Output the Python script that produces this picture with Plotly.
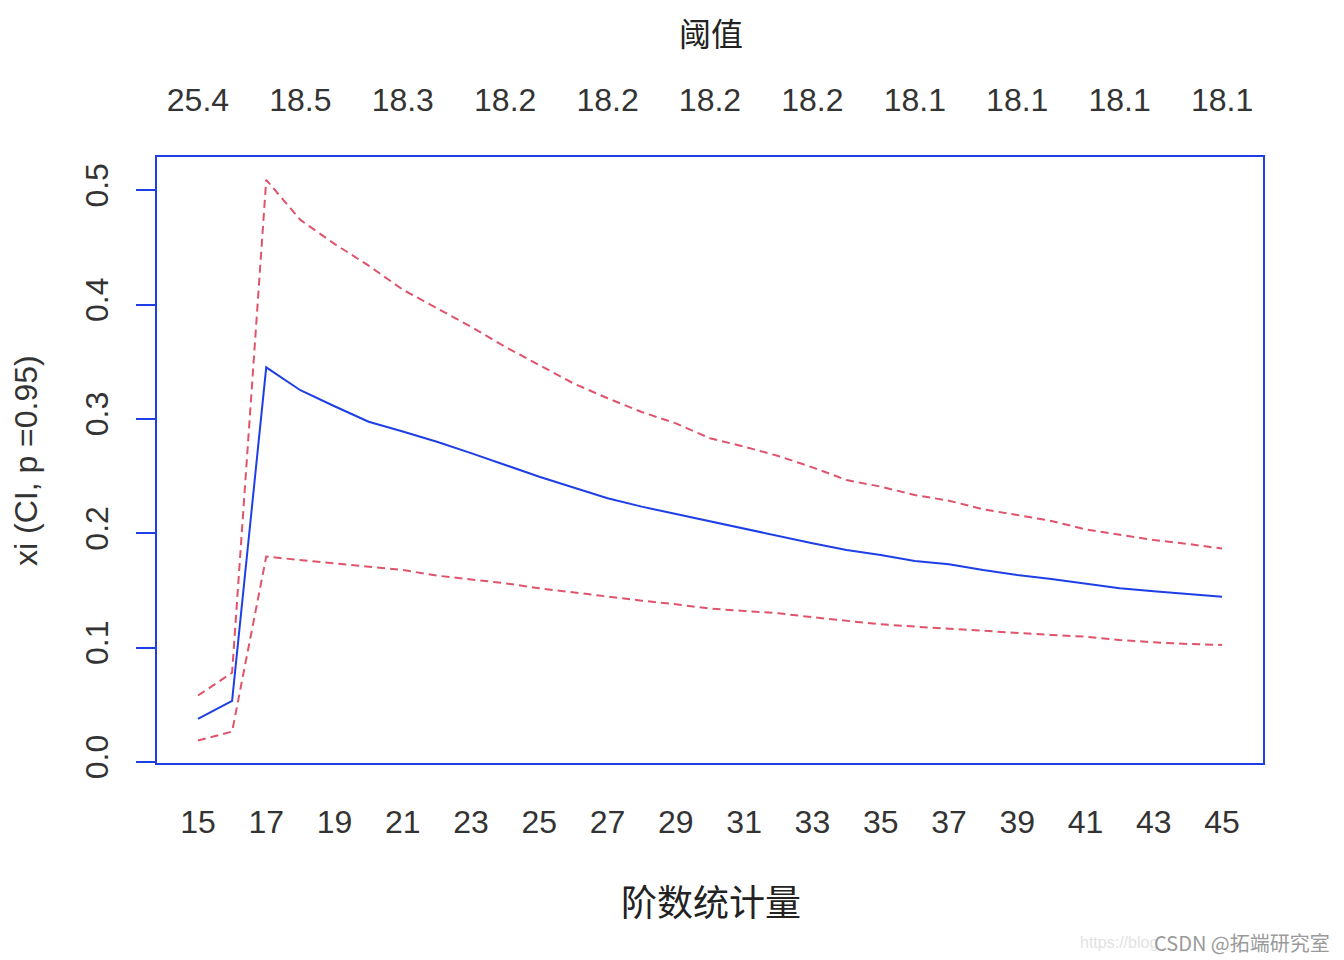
import plotly.graph_objects as go

# order statistics (number of exceedances) on the bottom axis
order_stats = list(range(15, 46))

# estimated shape xi and its 95% confidence bounds
xi_est = [
    0.0376, 0.0533, 0.345, 0.325, 0.311, 0.2975, 0.289, 0.280, 0.270,
    0.2596, 0.2494, 0.240, 0.2305, 0.2232, 0.2168, 0.210, 0.2034, 0.197,
    0.1912, 0.1853, 0.181, 0.1757, 0.1728, 0.1678, 0.1635, 0.160, 0.1556,
    0.1518, 0.1492, 0.1469, 0.1445,
]
xi_upper = [
    0.058, 0.078, 0.509, 0.474, 0.453, 0.434, 0.413, 0.397, 0.3805,
    0.363, 0.347, 0.331, 0.318, 0.306, 0.296, 0.283, 0.2757, 0.2675,
    0.2576, 0.2465, 0.2407, 0.2334, 0.2284, 0.2209, 0.2159, 0.2107, 0.2034,
    0.1984, 0.194, 0.1906, 0.1865,
]
xi_lower = [
    0.0186, 0.0265, 0.1795, 0.1763, 0.1736, 0.1707, 0.1678, 0.1629, 0.1597,
    0.1562, 0.1518, 0.148, 0.1445, 0.141, 0.1378, 0.134, 0.132, 0.130,
    0.1265, 0.1235, 0.1203, 0.1183, 0.1165, 0.1142, 0.1125, 0.111, 0.1095,
    0.1066, 0.1046, 0.1031, 0.1023,
]

# thresholds shown on the top axis
top_ticks = [15, 18, 21, 24, 27, 30, 33, 36, 39, 42, 45]
threshold_labels = ["25.4", "18.5", "18.3", "18.2", "18.2", "18.2",
                    "18.2", "18.1", "18.1", "18.1", "18.1"]

bottom_ticks = list(range(15, 46, 2))
y_ticks = [0.0, 0.1, 0.2, 0.3, 0.4, 0.5]

BLUE = "#1f3fe6"
RED = "#df536b"
TICK_FONT = dict(family="Liberation Sans, Arial", size=32, color="#333333")
CJK = "Noto Sans CJK SC"

W, H = 1344, 960
M_L, M_R, M_T, M_B = 149, 89, 149, 205
PAGE_OFF = 8  # body margin of the page


def paper_x(px):
    # screen pixel -> paper coordinate
    return (px - PAGE_OFF - M_L) / (W - M_L - M_R)


def paper_y(py):
    return (H - M_B - (py - PAGE_OFF)) / (H - M_T - M_B)


def label(text, px, py, font, **kw):
    return dict(text=text, x=paper_x(px), y=paper_y(py),
                xref="paper", yref="paper", showarrow=False,
                xanchor=kw.pop("xanchor", "center"), yanchor="middle",
                font=font, **kw)


fig = go.Figure()

fig.add_trace(go.Scatter(
    x=order_stats, y=xi_est, mode="lines",
    line=dict(color=BLUE, width=2), showlegend=False
))
for ci in (xi_upper, xi_lower):
    fig.add_trace(go.Scatter(
        x=order_stats, y=ci, mode="lines",
        line=dict(color=RED, width=2, dash="8px,5px"), showlegend=False
    ))

# dummy trace so the top axis gets drawn
fig.add_trace(go.Scatter(
    x=[order_stats[0]], y=[xi_est[0]], xaxis="x2", mode="markers",
    marker=dict(opacity=0), showlegend=False, hoverinfo="skip"
))

fig.update_layout(
    width=W, height=H,
    margin=dict(l=M_L, r=M_R, t=M_T, b=M_B),
    paper_bgcolor="white", plot_bgcolor="white",
    xaxis=dict(
        range=[13.8, 46.2], tickvals=bottom_ticks, ticks="",
        showgrid=False, zeroline=False, tickfont=TICK_FONT,
        showline=True, linecolor=BLUE, linewidth=2, mirror=True,
        ticklabelstandoff=30,
    ),
    xaxis2=dict(
        range=[13.8, 46.2], overlaying="x", side="top", ticks="",
        tickvals=top_ticks, ticktext=threshold_labels,
        showgrid=False, zeroline=False, tickfont=TICK_FONT,
        ticklabelstandoff=39,
    ),
    yaxis=dict(
        range=[-0.001, 0.529], tickvals=y_ticks,
        ticktext=["0.0", "0.1", "0.2", "0.3", "0.4", "0.5"],
        ticks="outside", ticklen=19, tickwidth=2, tickcolor=BLUE,
        tickangle=-90, tickfont=TICK_FONT,
        showgrid=False, zeroline=False,
        showline=True, linecolor=BLUE, linewidth=2, mirror=True,
        ticklabelstandoff=15,
    ),
    annotations=[
        label("阈值", 711, 32, dict(family=CJK, size=32, color="#222222"),
              borderpad=0),
        label("阶数统计量", 711, 900,
              dict(family=CJK, size=36, color="#222222")),
        label("xi (CI, p =0.95)", 26, 461,
              dict(family="Liberation Sans, Arial", size=32,
                   color="#333333"), textangle=-90),
        label("https://blog", 1160, 942,
              dict(family="Liberation Sans, Arial", size=16,
                   color="#e2e2e2"), xanchor="right"),
        label("CSDN @拓端研究室", 1332, 942,
              dict(family=CJK, size=20, color="#9a9a9a"), xanchor="right"),
    ],
)

fig.write_html("out.html")
